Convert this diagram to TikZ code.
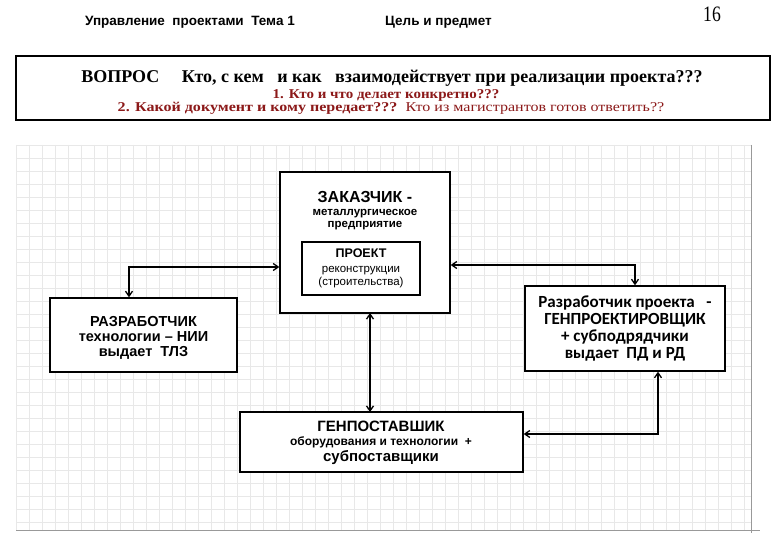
\documentclass[tikz,border=0pt]{standalone}
\usepackage{fontspec}
\setmainfont{Liberation Serif}
\setsansfont{Liberation Sans}
\newfontfamily\calib{Carlito}
\usetikzlibrary{arrows.meta}
\definecolor{qred}{RGB}{140,25,25}
\definecolor{gridc}{RGB}{232,232,232}
\tikzset{
  box/.style={draw=black, line width=1.4pt, fill=white, align=center, inner sep=0pt},
  conn/.style={line width=1.3pt, {Straight Barb[length=5pt,width=7pt]}-{Straight Barb[length=5pt,width=7pt]}},
  hdr/.style={font=\sffamily\bfseries\fontsize{13.5}{15}\selectfont, anchor=west, inner sep=0pt},
  txt/.style={inner sep=0pt, align=center}
}
\begin{document}
\begin{tikzpicture}[x=1pt,y=-1pt]
\useasboundingbox (0,0) rectangle (780,540);
\fill[white] (0,0) rectangle (780,540);
% grid
\foreach \gx in {16,29,...,750} \draw[gridc, line width=0.6pt] (\gx,145) -- (\gx,530);
\foreach \gy in {145,158,...,530} \draw[gridc, line width=0.6pt] (16,\gy) -- (752,\gy);
\draw[black!40, line width=0.8pt] (16,530) -- (760,530);
\draw[black!40, line width=0.8pt] (751,145) -- (751,533);
% header
\node[hdr] (h1) at (85,22) {Управление\ \ проектами\ \ Тема 1};
\node[hdr] (h2) at (385,22) {Цель и предмет};
\node[txt, font=\fontsize{22}{24}\selectfont] (pg) at (712,14) {\scalebox{0.8}[1]{16}};
% question box
\draw[line width=2pt] (16,56) rectangle (770,120);
\node[txt, font=\bfseries\fontsize{18}{20}\selectfont] (q0) at (392,78) {ВОПРОС\quad\ Кто, с кем\ \ \ и как\ \ \ взаимодействует при реализации проекта???};
\node[txt, font=\bfseries\fontsize{15}{17}\selectfont, text=qred] (q1) at (386,95) {\scalebox{1.0}[0.9]{1. Кто и что делает конкретно???}};
\node[txt, font=\fontsize{15}{17}\selectfont, text=qred] (q2) at (391,108) {\scalebox{1.07}[0.9]{\textbf{2. Какой документ и кому передает???}\ \ Кто из магистрантов готов ответить??}};
% boxes
\node[box, minimum width=170pt, minimum height=141pt] (zak) at (365,242.5) {};
\node[txt, font=\sffamily\bfseries] (zakt) at (365,211) {{\fontsize{16}{18}\selectfont ЗАКАЗЧИК -}\\[1pt]{\fontsize{11.5}{13}\selectfont металлургическое}\\{\fontsize{11.5}{13}\selectfont предприятие}};
\node[box, line width=1.2pt, minimum width=118pt, minimum height=53pt, font=\sffamily\fontsize{11.5}{13.5}\selectfont] (proj) at (361,268.5) {{\bfseries\fontsize{12.5}{14}\selectfont ПРОЕКТ}\\[1pt]реконструкции\\(строительства)};
\node[box, minimum width=187pt, minimum height=74pt] (razr) at (143.5,335) {};
\node[txt, font=\sffamily\bfseries\fontsize{14.5}{15}\selectfont] (razrt) at (143.5,338) {РАЗРАБОТЧИК\\технологии -- НИИ\\выдает\ \ ТЛЗ};
\node[box, minimum width=200pt, minimum height=85pt, font=\calib\bfseries\fontsize{17}{16.7}\selectfont] (gpr) at (625,328.5) {Разработчик проекта\ \ \ -\\ГЕНПРОЕКТИРОВЩИК\\+ субподрядчики\\выдает\ \ ПД и РД};
\node[box, minimum width=283pt, minimum height=60pt] (gps) at (381.5,442) {};
\node[txt, font=\sffamily\bfseries] (gpst) at (381,443) {{\fontsize{15}{15}\selectfont ГЕНПОСТАВШИК}\\[2pt]{\fontsize{12}{15}\selectfont оборудования и технологии\ \ +}\\[1pt]{\fontsize{15}{15}\selectfont субпоставщики}};
% connectors
\coordinate (c1) at (129,267);
\coordinate (c2) at (635,265);
\coordinate (c3) at (658,434);
\draw[conn] (razr.north -| c1) -- (c1) -- (c1 -| zak.west);
\draw[conn] (zak.east |- c2) -- (c2) -- (c2 |- gpr.north);
\draw[conn] (370,313) -- (370,412);
\draw[conn] (c3 |- gpr.south) -- (c3) -- (c3 -| gps.east);
\end{tikzpicture}
\end{document}
